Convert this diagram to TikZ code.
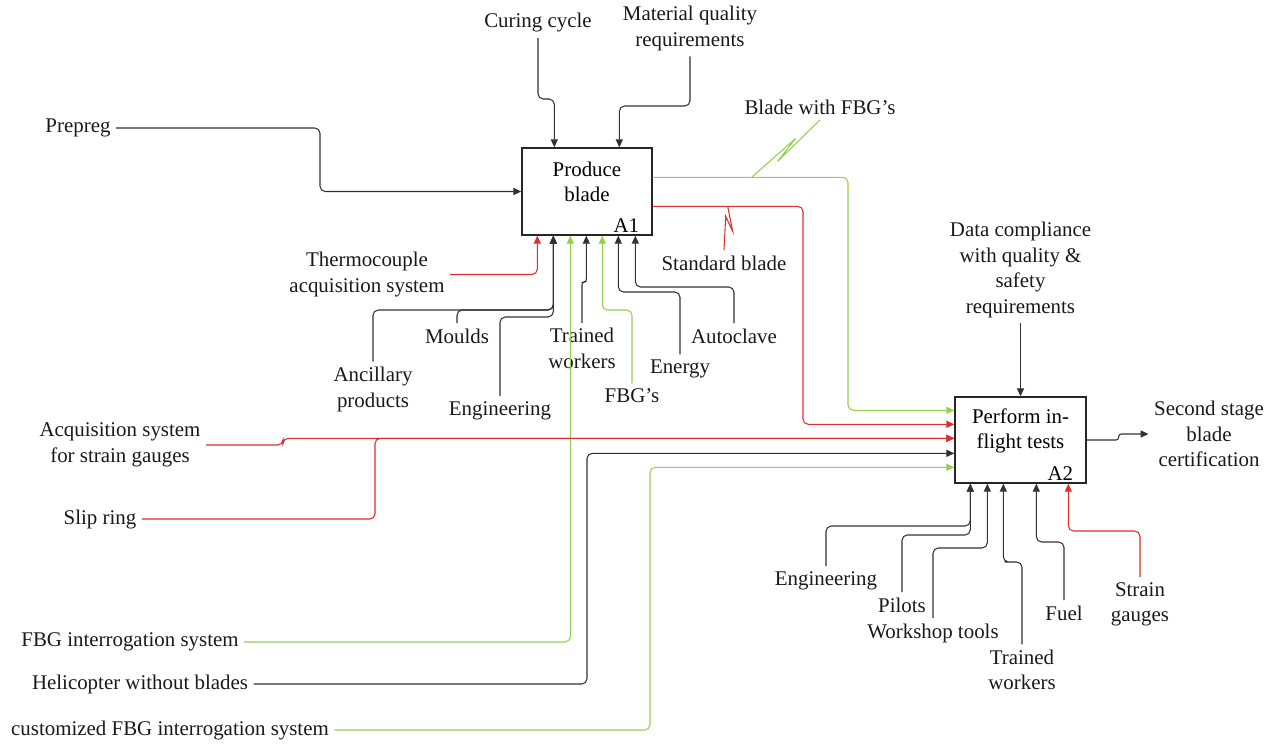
\documentclass[tikz,border=0pt]{standalone}
\usepackage{fontspec}
\setmainfont{Liberation Serif}
\usetikzlibrary{arrows.meta}
\usetikzlibrary{positioning}
\usetikzlibrary{calc}
\definecolor{linegreen}{RGB}{146,208,80}
\definecolor{linered}{RGB}{222,45,45}
\definecolor{linegray}{RGB}{50,50,50}
\begin{document}
\begin{tikzpicture}[x=0.02cm,y=-0.02cm,font=\fontsize{11.9}{14.5}\selectfont]
\tikzstyle{activity}=[rectangle,draw=black!85,line width=0.8pt,
minimum width=2.6cm,minimum height=1.74cm,align=center,inner sep=0pt]
\tikzstyle{tag}=[anchor=south east,inner sep=1.5pt,xshift=-6pt]
\tikzstyle{txt}=[align=center,inner sep=3pt,text=black!90]
\tikzstyle{flow}=[draw=linegray,line width=0.6pt,rounded corners=3pt,
-{Triangle[length=4.5pt,width=4pt]}]
\tikzstyle{redflow}=[flow,draw=linered]
\tikzstyle{greenflow}=[flow,draw=linegreen]
\tikzstyle{zigzag}=[line width=0.6pt]
\useasboundingbox (0,0) rectangle (1275,744);
% activities
\node[activity] (A1) at (587,191.5) {Produce\\blade\rule[-11pt]{0pt}{0pt}};
\node[tag] (A1tag) at (A1.south east) {A1};
\node[activity,minimum width=2.62cm,minimum height=1.72cm] (A2) at (1020.5,440) {Perform in-\\flight tests\rule[-13pt]{0pt}{0pt}};
\node[tag] (A2tag) at (A2.south east) {A2};
% ports
\foreach \n/\dx in {1/16,2/32,3/49,4/65,5/81,6/97,7/114}
  \coordinate (A1m\n) at ($(A1.south west)+(\dx,0)$);
\coordinate (A1c1) at ($(A1.north west)+(33,0)$);
\coordinate (A1c2) at ($(A1.north west)+(98,0)$);
\coordinate (A1o1) at ($(A1.north east)+(0,30)$);
\coordinate (A1o2) at ($(A1.north east)+(0,59)$);
\foreach \n/\dy in {1/14,2/28,3/42,4/57,5/71}
  \coordinate (A2i\n) at ($(A2.north west)+(0,\dy)$);
\foreach \n/\dx in {1/16,2/33,3/49,4/82,5/114}
  \coordinate (A2m\n) at ($(A2.south west)+(\dx,0)$);
% labels
\node[txt] (curing) at (538,23) {Curing cycle};
\node[txt] (material) at (690,28.5) {Material quality\\requirements};
\node[txt] (prepreg) at (78,128) {Prepreg};
\node[txt] (bladefbg) at (820,107) {Blade with FBG’s};
\node[txt] (standard) at (724,263) {Standard blade};
\node[txt] (thermo) at (367,274.5) {Thermocouple\\acquisition system};
\node[txt] (ancillary) at (373,389.5) {Ancillary\\products};
\node[txt] (moulds) at (457,336) {Moulds};
\node[txt] (engA1) at (500,411) {Engineering};
\node[txt] (trainedA1) at (582,348.5) {Trained\\workers};
\node[txt] (fbgs) at (632,396) {FBG’s};
\node[txt] (energy) at (680,369) {Energy};
\node[txt] (autoclave) at (734,336) {Autoclave};
\node[txt] (acqsg) at (120,445) {Acquisition system\\for strain gauges};
\node[txt] (slipring) at (100,519) {Slip ring};
\node[txt] (fbgint) at (130,642) {FBG interrogation system};
\node[txt] (heli) at (140,684) {Helicopter without blades};
\node[txt] (custom) at (170,730) {customized FBG interrogation system};
\node[txt] (datacomp) at (1020.5,270) {Data compliance\\with quality \&\\safety\\requirements};
\node[txt] (cert) at (1209,434) {Second stage\\blade\\certification};
\node[txt] (engA2) at (826,581) {Engineering};
\node[txt] (pilots) at (902,605) {Pilots};
\node[txt] (workshop) at (933,633) {Workshop tools};
\node[txt] (trainedA2) at (1022,670) {Trained\\workers};
\node[txt] (fuel) at (1064,613) {Fuel};
\node[txt] (strain) at (1140,604.5) {Strain\\gauges};
% controls and input of A1
\draw[flow] (curing.south) -- (538,99) -| (A1c1);
\draw[flow] (material.south) -- (690,106) -| (A1c2);
\draw[flow] (prepreg.east) -| (320,160) |- (A1.west);
% outputs of A1
\draw[greenflow] (A1o1) -| (848,300) |- (A2i1);
\draw[redflow] (A1o2) -| (803,300) |- (A2i2);
\coordinate (bsq) at ($(A1o1)+(99,0)$);
\draw[zigzag,linegreen] (bsq) -- ++(44,-39) -- ++(-18,23) -- (bladefbg.south);
\coordinate (ssq) at ($(A1o2)+(75,0)$);
\draw[zigzag,linered] (ssq) -- ++(5,25) -- ++(-7,-15) -- (standard.north);
% mechanisms of A1
\draw[redflow] (thermo.east) -| (A1m1);
\draw[flow] (ancillary.north) |- (500,310) -| (A1m2);
\draw[flow] (moulds.north) |- (520,310) -| (A1m2);
\draw[flow] (engA1.north) |- (530,317) -| (A1m2);
\draw[greenflow] (fbgint.east) -| (A1m3);
\draw[flow,rounded corners=1.5pt] (trainedA1.north) -- (582,282) -| (A1m4);
\draw[greenflow] (fbgs.north) |- (615,310) -| (A1m5);
\draw[flow] (energy.north) |- (640,292) -| (A1m6);
\draw[flow] (autoclave.north) |- (690,287) -| (A1m7);
% inputs, control and output of A2
\draw[redflow] (acqsg.east) -- (283,445) |- (A2i3);
\draw[redflow] (slipring.east) -| (375,480) |- (A2i3);
\draw[flow] (heli.east) -| (587,560) |- (A2i4);
\draw[greenflow] (custom.east) -| (650,600) |- (A2i5);
\draw[flow] (datacomp.south) -- (A2.north);
\draw[flow,rounded corners=1.5pt] (A2.east) -- ++(32,0) |- (cert.west);
% mechanisms of A2
\draw[flow] (engA2.north) |- (900,526) -| (A2m1);
\draw[flow] (pilots.north) |- (940,535) -| (A2m1);
\draw[flow] (workshop.north) |- (960,548) -| (A2m2);
\draw[flow] (trainedA2.north) |- (1010,562) -| (A2m3);
\draw[flow] (fuel.north) |- (1050,542) -| (A2m4);
\draw[redflow] (strain.north) |- (1100,531) -| (A2m5);
\end{tikzpicture}
\end{document}
